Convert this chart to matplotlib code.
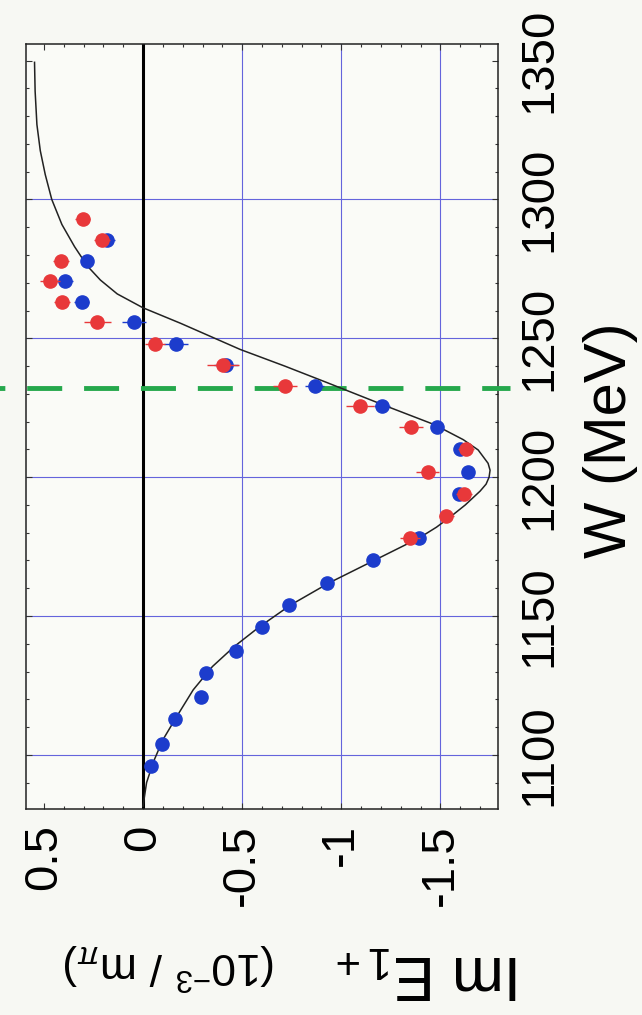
import matplotlib
matplotlib.use("Agg")
import matplotlib.pyplot as plt
import matplotlib.transforms as mtransforms
from matplotlib.ticker import FixedLocator, MultipleLocator

plt.rcParams["font.family"] = ["Liberation Sans", "DejaVu Sans"]
plt.rcParams["mathtext.fontset"] = "custom"
plt.rcParams["mathtext.rm"] = "Liberation Sans"
plt.rcParams["mathtext.it"] = "Liberation Sans:italic"
plt.rcParams["mathtext.sf"] = "Liberation Sans"

# ---- data -------------------------------------------------------------
# blue data set: W (MeV), Im E1+ (10^-3/m_pi), error
w_blue = [1096, 1104, 1113, 1121, 1129.5, 1137.5, 1146, 1154, 1162, 1170,
          1178, 1194, 1202, 1210, 1218, 1225.5, 1233, 1240.5, 1248, 1256,
          1263, 1270.5, 1278, 1285.5]
e_blue = [-0.04, -0.095, -0.162, -0.29, -0.32, -0.47, -0.60, -0.735, -0.93, -1.16,
          -1.39, -1.595, -1.64, -1.60, -1.48, -1.205, -0.865, -0.42, -0.165, 0.045,
          0.31, 0.395, 0.28, 0.18]
err_blue = [0.02, 0.02, 0.02, 0.02, 0.02, 0.02, 0.02, 0.02, 0.02, 0.02,
            0.03, 0.03, 0.03, 0.03, 0.03, 0.04, 0.05, 0.06, 0.06, 0.06,
            0.04, 0.04, 0.03, 0.04]

# red data set
w_red = [1178, 1186, 1194, 1202, 1210, 1218, 1225.5, 1233, 1240.5, 1248,
         1256, 1263, 1270.5, 1278, 1285.5, 1293]
e_red = [-1.345, -1.53, -1.62, -1.435, -1.63, -1.35, -1.095, -0.715, -0.405, -0.06,
         0.23, 0.41, 0.47, 0.415, 0.205, 0.305]
err_red = [0.05, 0.04, 0.04, 0.06, 0.04, 0.06, 0.07, 0.06, 0.08, 0.05,
           0.07, 0.04, 0.05, 0.04, 0.04, 0.04]

# model curve
w_curve = [1081.5, 1090, 1097.4, 1105.4, 1113.8, 1123.4, 1131.8, 1139, 1146, 1154,
           1162, 1170, 1178, 1182, 1186, 1190, 1195, 1197.5, 1200, 1202.5,
           1205, 1209.8, 1213.5, 1218.9, 1225.5, 1234, 1240, 1246, 1255.4, 1261,
           1266, 1271, 1276, 1283, 1291, 1300, 1309, 1317.6, 1327, 1339,
           1349.4]
e_curve = [0.0, -0.018, -0.052, -0.10, -0.17, -0.253, -0.35, -0.46, -0.585, -0.745,
           -0.94, -1.165, -1.39, -1.48, -1.555, -1.625, -1.70, -1.73, -1.745, -1.75,
           -1.74, -1.69, -1.615, -1.47, -1.23, -0.93, -0.715, -0.49, -0.19, 0.0,
           0.13, 0.215, 0.28, 0.345, 0.409, 0.46, 0.493, 0.518, 0.535, 0.544,
           0.547]

w_delta = 1232  # Delta(1232) resonance position

x_ticks = [0.5, 0, -0.5, -1, -1.5]
x_tick_labels = ["0.5", "0", "-0.5", "-1", "-1.5"]
w_ticks = [1100, 1150, 1200, 1250, 1300, 1350]
w_tick_labels = ["1100", "1150", "1200", "1250", "1300", "1350"]
w_grid = [1100, 1150, 1200, 1250, 1300]
e_grid = [-0.5, -1, -1.5]

# ---- figure -----------------------------------------------------------
W_PX, H_PX = 642, 1015
bg = "#f7f8f3"
fig = plt.figure(figsize=(W_PX / 100, H_PX / 100), dpi=100, facecolor=bg)
ax = fig.add_axes([26 / W_PX, 1 - 809 / H_PX, 472 / W_PX, 765 / H_PX], facecolor="#fafbf7")

ax.set_xlim(0.59, -1.79)
ax.set_ylim(1080.5, 1356)

grid_col = "#6464dc"
for w in w_grid:
    ax.axhline(w, color=grid_col, lw=0.8, zorder=1)
for e in e_grid:
    ax.axvline(e, color=grid_col, lw=0.8, zorder=1)
ax.axvline(0, color="black", lw=2.2, zorder=2)

# dashed marker of the resonance, extending past the frame
trans = mtransforms.blended_transform_factory(ax.transAxes, ax.transData)
ax.plot([-0.06, 1.025], [w_delta, w_delta], transform=trans, clip_on=False,
        color="#25a84c", lw=3.5, linestyle=(6.0, (7.2, 4.5)), zorder=3)

ax.plot(e_curve, w_curve, color="#222222", lw=1.1, zorder=3)

ax.errorbar(e_blue, w_blue, xerr=err_blue, fmt="o", color="#1c3ccc", ms=9.5,
            elinewidth=1.0, capsize=0, zorder=4)
ax.errorbar(e_red, w_red, xerr=err_red, fmt="o", color="#e8383a", ms=9.5,
            elinewidth=1.0, capsize=0, zorder=5)

# ticks
ax.xaxis.set_major_locator(FixedLocator(x_ticks))
ax.xaxis.set_minor_locator(MultipleLocator(0.1))
ax.set_xticklabels(x_tick_labels, rotation=90, ha="center", va="top", fontsize=34)
ax.yaxis.tick_right()
ax.yaxis.set_major_locator(FixedLocator(w_ticks))
ax.yaxis.set_minor_locator(MultipleLocator(10))
ax.set_yticklabels(w_tick_labels, rotation=90, ha="left", va="center", fontsize=34)
ax.tick_params(which="both", direction="in", top=True, bottom=True, left=True, right=True,
               color="#333333", width=0.8)
ax.tick_params(which="major", length=4.5)
ax.tick_params(which="minor", length=2.5)
ax.tick_params(axis="x", pad=11)
ax.tick_params(axis="y", pad=14)

for s in ax.spines.values():
    s.set_linewidth(1.1)
    s.set_color("#222222")

# axis titles
fig.text(611 / W_PX, 1 - 440 / H_PX, "W (MeV)", rotation=90, ha="center", va="center",
         fontsize=43)
fig.text(522 / W_PX, 1 - 972 / H_PX, r"Im E$_{1+}$", rotation=180, ha="right", va="center",
         fontsize=45)
fig.text(276 / W_PX, 1 - 966 / H_PX, r"(10$^{-3}$ / m$_{\pi}$)", rotation=180, ha="right",
         va="center", fontsize=32)

fig.savefig("out.png", dpi=100, facecolor=bg)
